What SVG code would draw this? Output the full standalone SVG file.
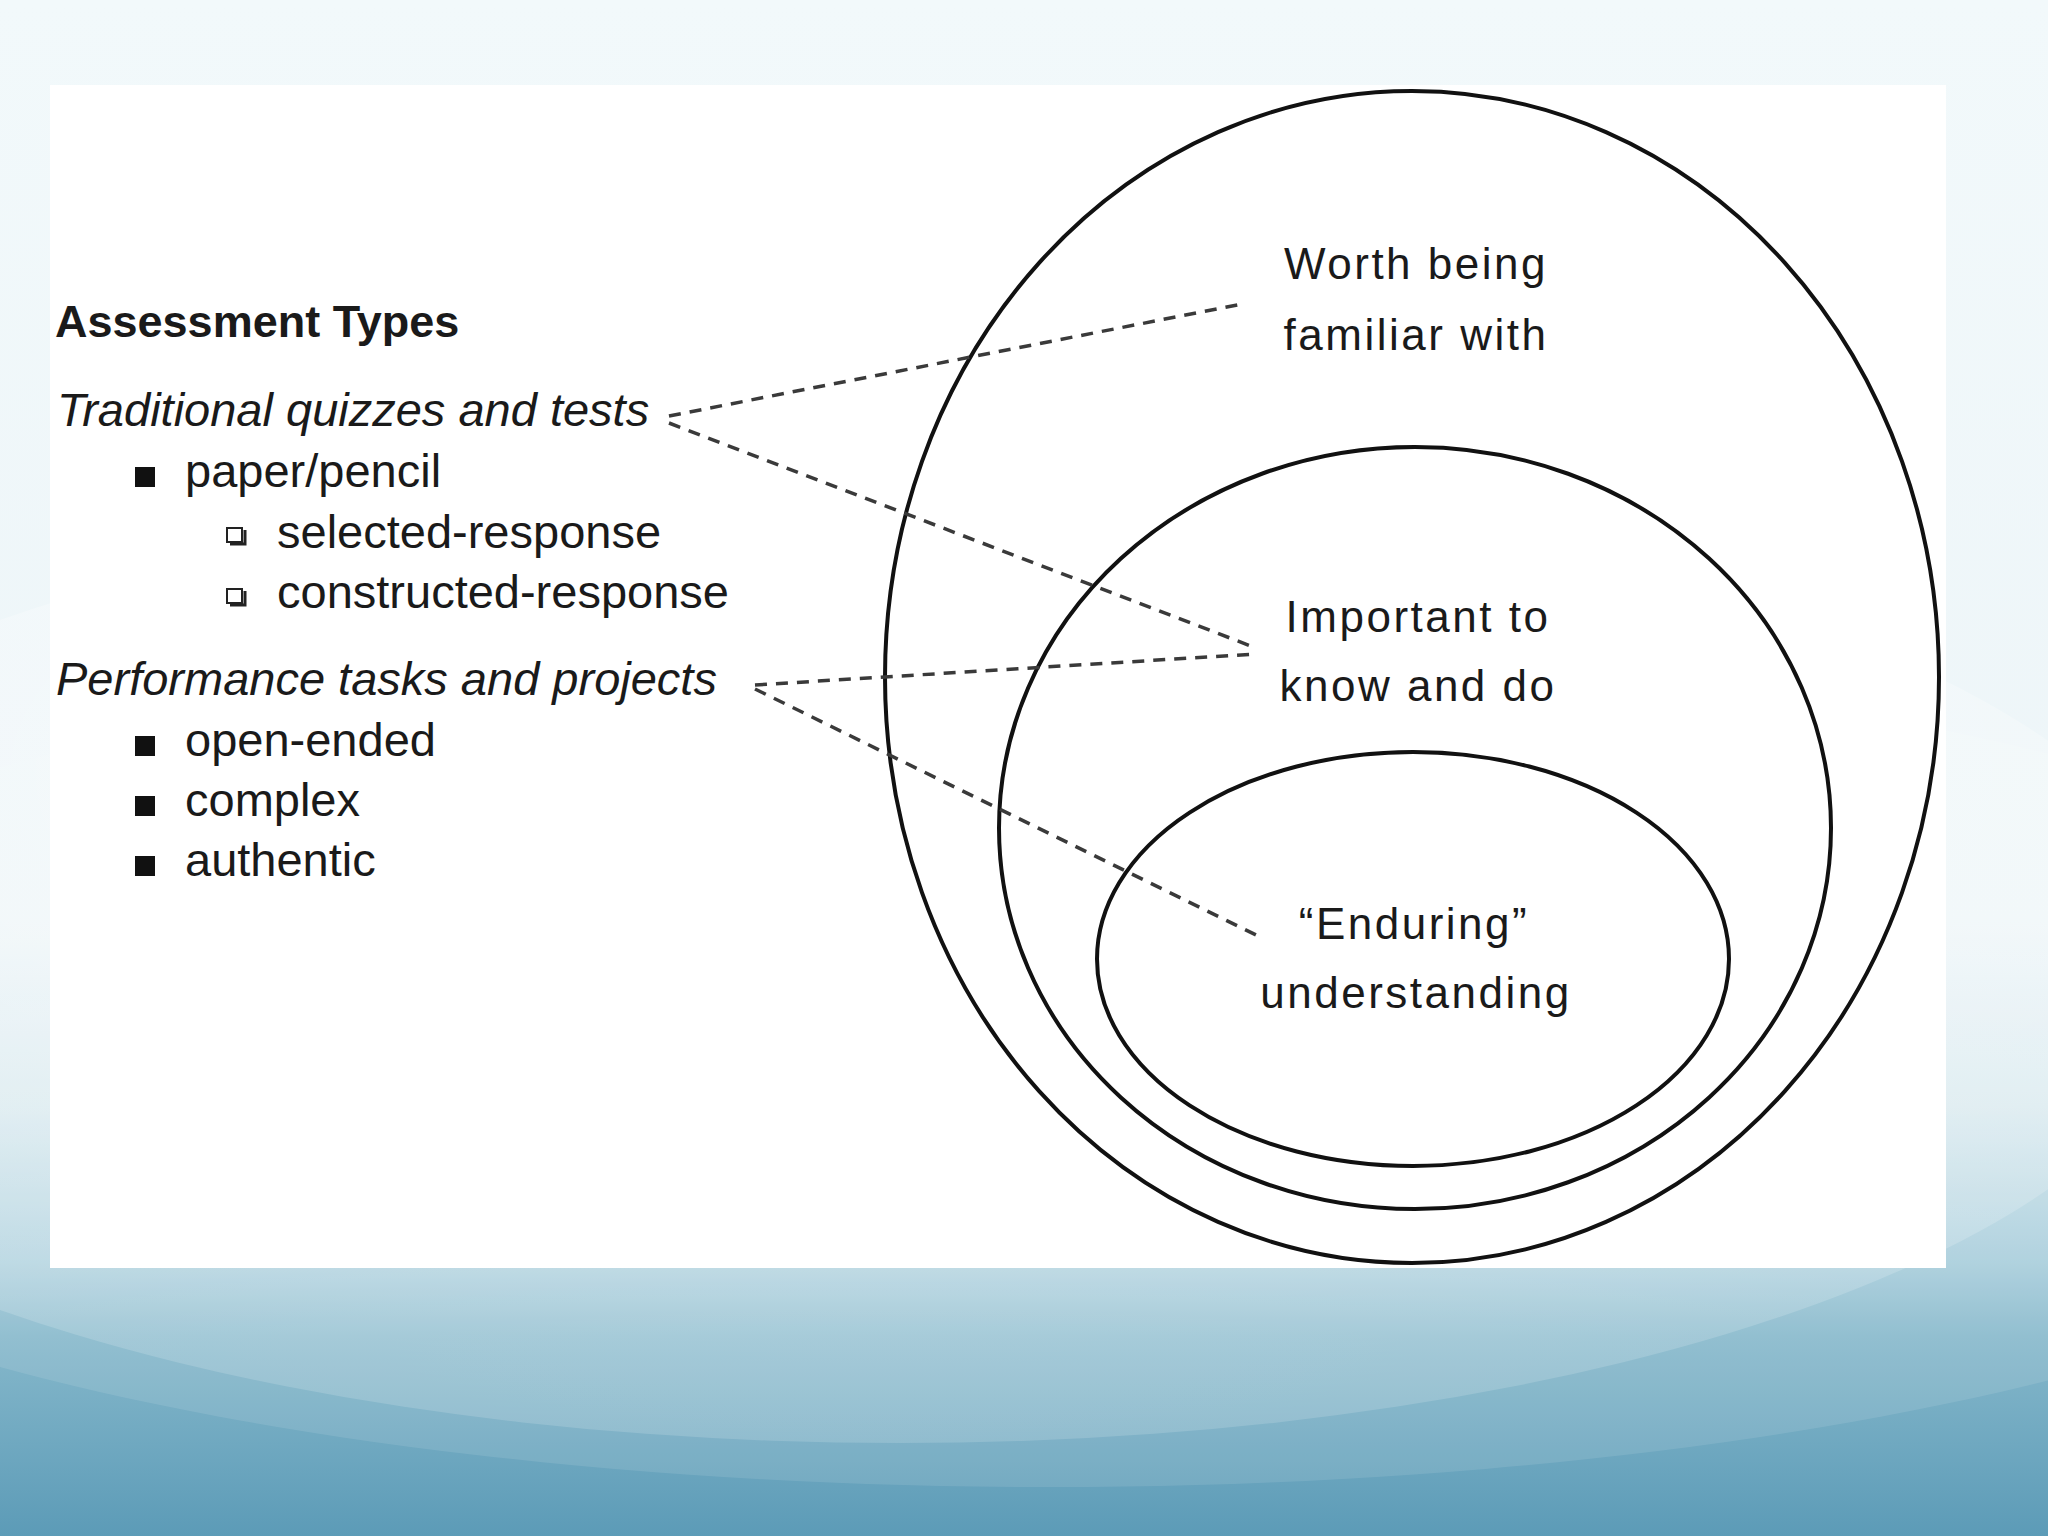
<svg xmlns="http://www.w3.org/2000/svg" width="2048" height="1536" viewBox="0 0 2048 1536">
<style>
.t{font-family:"Liberation Sans",Arial,Helvetica,sans-serif;fill:#1a1a1a}
.h{font-size:45px;font-weight:bold}
.i{font-size:47px;font-style:italic}
.l{font-size:47px}
.c{font-size:44px;text-anchor:middle;letter-spacing:2.5px}
.ring{fill:none;stroke:#111;stroke-width:4}
.dash{fill:none;stroke:#3a3a3a;stroke-width:3.5;stroke-dasharray:12 9}
.sq{fill:#111}
.box{fill:#fff;stroke:#222;stroke-width:2}
.sh{fill:none;stroke:#222;stroke-width:3}
</style>
<defs>
<linearGradient id="bg" x1="0" y1="0" x2="0" y2="1">
<stop offset="0" stop-color="#f2f9fb"/>
<stop offset="0.6" stop-color="#edf5f8"/>
<stop offset="0.72" stop-color="#d6e8ee"/>
<stop offset="0.82" stop-color="#a9cedc"/>
<stop offset="0.87" stop-color="#86b8cb"/>
<stop offset="1" stop-color="#5c9bb7"/>
</linearGradient>
<radialGradient id="glow" cx="0.5" cy="0.3" r="0.7">
<stop offset="0" stop-color="#ffffff" stop-opacity="0.4"/>
<stop offset="1" stop-color="#ffffff" stop-opacity="0.15"/>
</radialGradient>
</defs>
<g id="background">
<rect x="0" y="0" width="2048" height="1536" fill="url(#bg)"/>
<ellipse cx="1050" cy="1067" rx="1500" ry="420" fill="#ffffff" fill-opacity="0.1"/>
<ellipse cx="900" cy="965" rx="1300" ry="478" fill="url(#glow)"/>
</g>
<rect id="panel" x="50" y="85" width="1896" height="1183" fill="#ffffff"/>
<g id="rings">
<ellipse id="outer" class="ring" cx="1412" cy="677" rx="527" ry="586"/>
<ellipse id="middle" class="ring" cx="1415" cy="828" rx="416" ry="381"/>
<ellipse id="inner" class="ring" cx="1413" cy="959" rx="316" ry="207"/>
</g>
<g id="connectors">
<line class="dash" x1="669" y1="416" x2="1242" y2="304"/>
<line class="dash" x1="669" y1="423" x2="1256" y2="648"/>
<line class="dash" x1="755" y1="685" x2="1256" y2="654"/>
<line class="dash" x1="755" y1="689" x2="1256" y2="935"/>
</g>
<g id="assessment-types">
<text class="t h" x="55" y="337">Assessment Types</text>
<g id="traditional">
<text class="t i" x="57" y="426">Traditional quizzes and tests</text>
<rect class="sq" x="135" y="467" width="20" height="20"/>
<text class="t l" x="185" y="487">paper/pencil</text>
<path class="sh" d="M230 544 H245 V530"/>
<rect class="box" x="227" y="528" width="15" height="14"/>
<text class="t l" x="277" y="548">selected-response</text>
<path class="sh" d="M230 605 H245 V591"/>
<rect class="box" x="227" y="589" width="15" height="14"/>
<text class="t l" x="277" y="608">constructed-response</text>
</g>
<g id="performance">
<text class="t i" x="56" y="695">Performance tasks and projects</text>
<rect class="sq" x="135" y="736" width="20" height="20"/>
<text class="t l" x="185" y="756">open-ended</text>
<rect class="sq" x="135" y="796" width="20" height="20"/>
<text class="t l" x="185" y="816">complex</text>
<rect class="sq" x="135" y="856" width="20" height="20"/>
<text class="t l" x="185" y="876">authentic</text>
</g>
</g>
<g id="label-familiar">
<text class="t c" x="1416" y="279">Worth being</text>
<text class="t c" x="1416" y="350">familiar with</text>
</g>
<g id="label-important">
<text class="t c" x="1418" y="632">Important to</text>
<text class="t c" x="1418" y="701">know and do</text>
</g>
<g id="label-enduring">
<text class="t c" x="1414" y="939">“Enduring”</text>
<text class="t c" x="1416" y="1008">understanding</text>
</g>
</svg>
